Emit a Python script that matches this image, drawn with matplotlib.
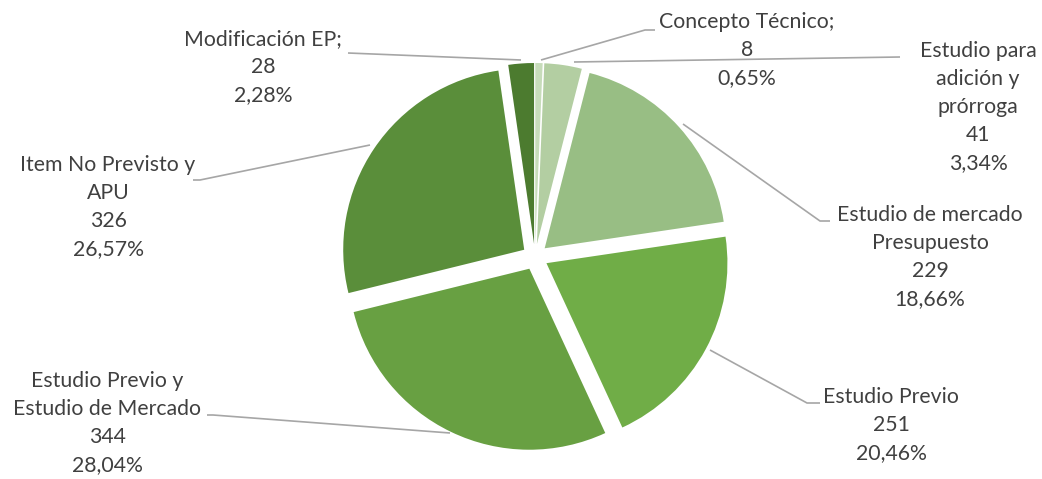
import matplotlib
matplotlib.use("Agg")
import matplotlib.pyplot as plt

W, H = 1042, 479

categories = ["Concepto Técnico;", "Estudio para\nadición y\nprórroga", "Estudio de mercado\nPresupuesto",
              "Estudio Previo", "Estudio Previo y\nEstudio de Mercado", "Item No Previsto y\nAPU",
              "Modificación EP;"]
values = [8, 41, 229, 251, 344, 326, 28]
percent_labels = ["0,65%", "3,34%", "18,66%", "20,46%", "28,04%", "26,57%", "2,28%"]
colors = ["#c7dcba", "#b3cea2", "#98be84", "#70ad47", "#68a042", "#5a8e3a", "#4c7b2f"]

# layout: label centre (px) and leader line points (px)
label_pos = [(747, 50), (978, 107), (930, 257), (891, 425), (107, 423), (108, 207), (263, 67)]
leaders = [
    [(541, 60), (645, 30), (655, 30)],
    [(574, 62), (900, 57)],
    [(683, 124), (820, 221), (830, 221)],
    [(710, 350), (807, 403), (820, 403)],
    [(450, 433), (213, 415), (207, 415)],
    [(370, 145), (200, 180), (193, 180)],
    [(521, 60), (348, 53)],
]

plt.rcParams['font.family'] = ['Lato', 'DejaVu Sans']
fig = plt.figure(figsize=(W / 100, H / 100), dpi=100)
ax = fig.add_axes([0, 0, 1, 1])

def Y(py):
    return H - py

R = 181
ax.pie(values, colors=colors, startangle=90, counterclock=False,
       center=(535, Y(257)), radius=R, explode=[13] * len(values),
       wedgeprops=dict(linewidth=0))

ax.set_xlim(0, W)
ax.set_ylim(0, H)
ax.set_aspect('equal')
ax.axis('off')

for pts in leaders:
    ax.plot([p[0] for p in pts], [Y(p[1]) for p in pts], color="#a6a6a6", lw=1.2,
            solid_capstyle='butt', zorder=1)

for cat, v, pct, (x, y) in zip(categories, values, percent_labels, label_pos):
    ax.text(x, Y(y), f"{cat}\n{v}\n{pct}", ha='center', va='center', fontsize=15.3,
            color="#404040", linespacing=1.5)

fig.savefig("out.png", dpi=100)
